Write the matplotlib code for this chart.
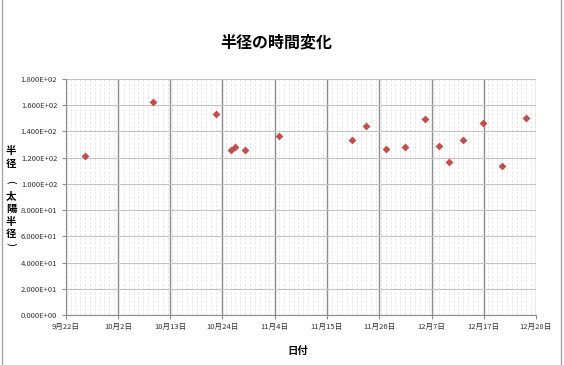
import matplotlib.pyplot as plt
import matplotlib.dates as mdates
from matplotlib.ticker import MultipleLocator, FuncFormatter
from matplotlib.lines import Line2D
import numpy as np
import pandas as pd

plt.rcParams['font.family'] = ['Noto Sans CJK JP', 'DejaVu Sans']

# --- data ---
dates = ['2011-09-26', '2011-10-10', '2011-10-23', '2011-10-26', '2011-10-27',
         '2011-10-29', '2011-11-05', '2011-11-20', '2011-11-23', '2011-11-27',
         '2011-12-01', '2011-12-05', '2011-12-08', '2011-12-10', '2011-12-13',
         '2011-12-17', '2011-12-21', '2011-12-26']
radius = [121.0, 162.2, 153.1, 125.6, 127.9,
          126.1, 136.3, 133.7, 144.2, 126.4,
          128.4, 149.7, 128.7, 116.5, 133.2,
          146.7, 113.4, 150.5]
x_labels = ['9月22日', '10月2日', '10月13日', '10月24日', '11月4日',
            '11月15日', '11月26日', '12月7日', '12月17日', '12月28日']
x_start, x_end = '2011-09-22', '2011-12-28'
y_ticks = [0, 20, 40, 60, 80, 100, 120, 140, 160, 180]
y_label = '半径 （太陽半径）'

fig = plt.figure(figsize=(5.64, 3.65), dpi=100)
ax = fig.add_axes([0.1165, 0.137, 0.8339, 0.6466])

xd = mdates.date2num(pd.to_datetime(dates))
x0 = mdates.date2num(pd.Timestamp(x_start))
x1 = mdates.date2num(pd.Timestamp(x_end))

ax.scatter(xd, radius, marker='D', s=16, color='#C0504D', zorder=5, linewidths=0)

ax.set_xlim(x0, x1)
ax.set_ylim(y_ticks[0], y_ticks[-1])
ax.set_xticks(np.linspace(x0, x1, len(x_labels)))
ax.set_xticklabels(x_labels)
ax.xaxis.set_minor_locator(MultipleLocator(1))
ax.set_yticks(y_ticks)
ax.yaxis.set_major_formatter(FuncFormatter(lambda v, p: f'{v:.3E}'))

ax.grid(True, axis='y', which='major', color='#c4c4c4', linewidth=0.8)
ax.grid(True, axis='x', which='major', color='#8c8c8c', linewidth=1.0)
ax.grid(True, axis='x', which='minor', color='#e3e3e3', linewidth=0.6, linestyle=(0, (3, 2)))
ax.set_axisbelow(True)

for s in ['top', 'right']:
    ax.spines[s].set_visible(False)
for s in ['left', 'bottom']:
    ax.spines[s].set_color('#8c8c8c')
    ax.spines[s].set_linewidth(0.8)

ax.tick_params(axis='both', which='major', labelsize=5.5, labelcolor='#333333',
               color='#8c8c8c', length=3, pad=3)
ax.tick_params(axis='x', which='minor', length=0)

fig.text(0.49, 0.883, '半径の時間変化', ha='center', va='center',
         fontsize=11.5, fontweight='bold')
fig.text(0.528, 0.038, '日付', ha='center', va='center',
         fontsize=7.5, fontweight='bold')

# vertical (stacked) y-axis title; brackets drawn turned, as in vertical writing
y_px = 151
for ch in y_label:
    if ch == ' ':
        y_px += 8
        continue
    if ch in '（）':
        fig.text(11 / 564, 1 - (y_px - 2) / 365, '()'['（）'.index(ch)],
                 ha='center', va='center', fontsize=7.5, rotation=-90,
                 family='DejaVu Sans')
    else:
        fig.text(11 / 564, 1 - y_px / 365, ch, ha='center', va='center',
                 fontsize=7.5, fontweight='bold')
    y_px += 12.5

# chart frame
fig.add_artist(Line2D([0.004, 0.004], [0, 1], color='#a6a6a6', linewidth=1.0))
fig.add_artist(Line2D([0.995, 0.995], [0, 1], color='#a6a6a6', linewidth=1.0))

fig.savefig('out.png', dpi=100)
